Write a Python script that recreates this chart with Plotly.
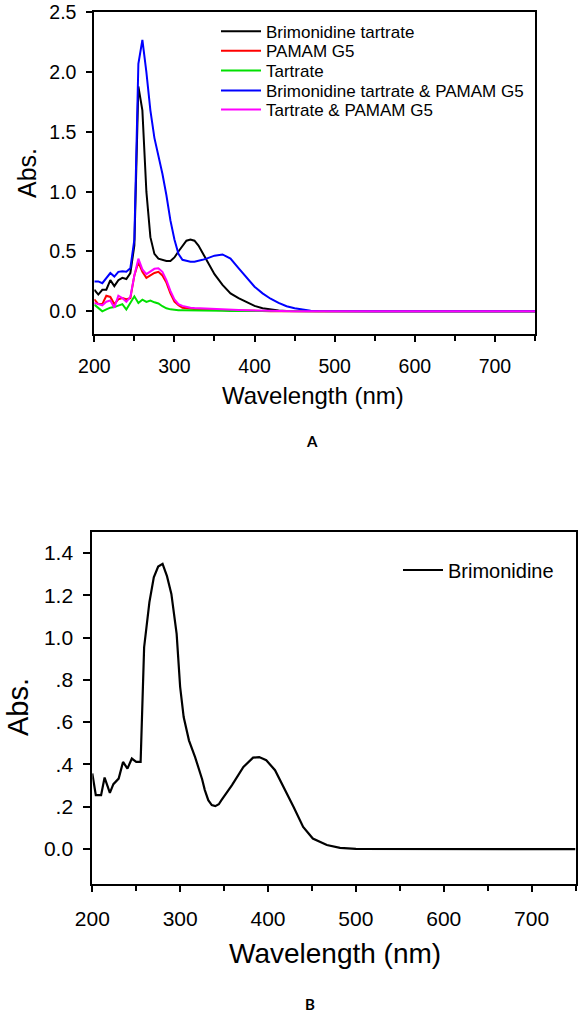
import plotly.graph_objects as go

# ---------------- Panel A data ----------------
wl_a = [200, 205, 210, 215, 220, 225, 230, 235, 240, 245, 250, 255, 260, 265, 270,
        275, 280, 285, 290, 295, 300, 305, 310, 315, 320, 325, 330, 335, 340, 345,
        350, 360, 370, 380, 390, 400, 410, 420, 430, 440, 450, 460, 470, 480, 490,
        500, 550, 600, 650, 700, 750]

brimonidine_tartrate = [0.18, 0.14, 0.18, 0.18, 0.26, 0.21, 0.26, 0.28, 0.27, 0.32, 0.55, 1.88, 1.68, 1.00, 0.62,
                        0.48, 0.44, 0.43, 0.42, 0.42, 0.45, 0.50, 0.55, 0.59, 0.60, 0.59, 0.55, 0.49, 0.43, 0.37,
                        0.31, 0.22, 0.15, 0.11, 0.075, 0.045, 0.025, 0.015, 0.007, 0.003, 0.001, 0.0, 0.0, 0.0, 0.0,
                        0.0, 0.0, 0.0, 0.0, 0.0, 0.0]
pamam_g5 = [0.10, 0.06, 0.06, 0.13, 0.12, 0.06, 0.10, 0.11, 0.10, 0.11, 0.30, 0.41, 0.33, 0.28, 0.30,
            0.32, 0.33, 0.30, 0.24, 0.15, 0.08, 0.05, 0.03, 0.025, 0.02, 0.018, 0.015, 0.013, 0.012, 0.011,
            0.010, 0.008, 0.006, 0.005, 0.004, 0.003, 0.002, 0.001, 0.001, 0.0, 0.0, 0.0, 0.0, 0.0, 0.0,
            0.0, 0.0, 0.0, 0.0, 0.0, 0.0]
tartrate = [0.056, 0.03, 0.0, 0.016, 0.03, 0.035, 0.05, 0.06, 0.015, 0.07, 0.125, 0.07, 0.097, 0.078, 0.09,
            0.075, 0.065, 0.042, 0.025, 0.016, 0.01, 0.008, 0.008, 0.007, 0.007, 0.006, 0.006, 0.005, 0.005, 0.005,
            0.004, 0.004, 0.003, 0.003, 0.002, 0.002, 0.001, 0.001, 0.0, 0.0, 0.0, 0.0, 0.0, 0.0, 0.0,
            0.0, 0.0, 0.0, 0.0, 0.0, 0.0]
brimonidine_tartrate_pamam = [0.25, 0.25, 0.235, 0.28, 0.32, 0.29, 0.33, 0.335, 0.33, 0.36, 0.60, 2.07, 2.27, 2.00, 1.68,
                              1.45, 1.30, 1.15, 0.97, 0.76, 0.60, 0.48, 0.43, 0.42, 0.415, 0.415, 0.42, 0.43, 0.44, 0.455,
                              0.465, 0.475, 0.44, 0.36, 0.28, 0.205, 0.15, 0.105, 0.07, 0.042, 0.025, 0.012, 0.005, 0.002, 0.001,
                              0.0, 0.0, 0.0, 0.0, 0.0, 0.0]
tartrate_pamam = [0.07, 0.06, 0.05, 0.08, 0.09, 0.03, 0.13, 0.11, 0.08, 0.12, 0.30, 0.44, 0.35, 0.31, 0.33,
                  0.355, 0.36, 0.33, 0.26, 0.17, 0.10, 0.06, 0.045, 0.035, 0.03, 0.027, 0.025, 0.022, 0.02, 0.018,
                  0.017, 0.015, 0.012, 0.010, 0.008, 0.006, 0.005, 0.003, 0.002, 0.002, 0.001, 0.001, 0.0, 0.0, 0.0,
                  0.0, 0.0, 0.0, 0.0, 0.0, 0.0]

names_a = ["Brimonidine tartrate", "PAMAM G5", "Tartrate",
           "Brimonidine tartrate & PAMAM G5", "Tartrate & PAMAM G5"]
colors_a = ["#000000", "#ff0000", "#00e000", "#0000ff", "#ff00ff"]
series_a = [brimonidine_tartrate, pamam_g5, tartrate, brimonidine_tartrate_pamam, tartrate_pamam]

# ---------------- Panel B data ----------------
wl_b = [200, 204, 210, 214, 220, 224, 230, 235, 240, 245, 250, 255, 259, 265, 270,
        275, 280, 285, 290, 296, 300, 304, 310, 317, 325, 328, 332, 336, 340, 344,
        347, 359, 372, 383, 390, 398, 408, 417, 429, 440, 451, 467, 482, 500, 750]
brimonidine = [0.357, 0.255, 0.255, 0.338, 0.266, 0.307, 0.333, 0.412, 0.38, 0.428, 0.412, 0.412, 0.954, 1.167, 1.284,
               1.335, 1.348, 1.29, 1.206, 1.017, 0.766, 0.624, 0.514, 0.435, 0.33, 0.28, 0.231, 0.208, 0.203, 0.212,
               0.231, 0.302, 0.388, 0.432, 0.435, 0.42, 0.373, 0.302, 0.2, 0.105, 0.05, 0.019, 0.006, 0.001, 0.0]

x_ticks = [200, 300, 400, 500, 600, 700]
y_ticks_a = [0.0, 0.5, 1.0, 1.5, 2.0, 2.5]
y_labels_a = ["0.0", "0.5", "1.0", "1.5", "2.0", "2.5"]
y_ticks_b = [0.0, 0.2, 0.4, 0.6, 0.8, 1.0, 1.2, 1.4]
y_labels_b = ["0.0", ".2", ".4", ".6", ".8", "1.0", "1.2", "1.4"]

W, H = 583, 1018
FONT = "Liberation Sans, Arial, sans-serif"

fig = go.Figure()

legend_rows_px = [31.7, 51.3, 71.0, 91.0, 110.0]
legend_keys = ["legend", "legend2", "legend3", "legend4", "legend5"]
for name, col, ys, lg in zip(names_a, colors_a, series_a, legend_keys):
    fig.add_trace(go.Scatter(x=wl_a, y=ys, mode="lines", name=name,
                             line=dict(color=col, width=2),
                             xaxis="x", yaxis="y", legend=lg))

fig.add_trace(go.Scatter(x=wl_b, y=brimonidine, mode="lines", name="Brimonidine",
                         line=dict(color="#000000", width=2.2),
                         xaxis="x2", yaxis="y2", legend="legend6"))

def px_x(p):
    return p / W

def px_y(p):
    return 1 - p / H

axis_common = dict(showline=True, linecolor="black", linewidth=2, mirror=True,
                   showgrid=False, zeroline=False, ticks="outside",
                   tickcolor="black", tickwidth=2, automargin=False)

layout = dict(
    width=W, height=H,
    margin=dict(l=0, r=0, t=0, b=0, autoexpand=False),
    paper_bgcolor="white", plot_bgcolor="white",
    font=dict(family=FONT, color="black"),
    showlegend=True,
    xaxis=dict(domain=[px_x(94.3), px_x(535)], range=[200, 750], anchor="y",
               tickvals=x_ticks, ticklen=6, tickfont=dict(size=19.5),
               ticklabelstandoff=8,
               minor=dict(dtick=50, tick0=200, ticks="outside", ticklen=5, tickwidth=2, tickcolor="black"),
               **axis_common),
    yaxis=dict(domain=[px_y(334), px_y(12.3)], range=[-0.19, 2.5], anchor="x",
               tickvals=y_ticks_a, ticktext=y_labels_a, ticklen=6, tickfont=dict(size=19.5),
               ticklabelstandoff=6,
               **axis_common),
    xaxis2=dict(domain=[px_x(92.3), px_x(575.5)], range=[200, 750], anchor="y2",
                tickvals=x_ticks, ticklen=6, tickfont=dict(size=21),
                ticklabelstandoff=9,
                minor=dict(dtick=50, tick0=200, ticks="outside", ticklen=5, tickwidth=2, tickcolor="black"),
                **axis_common),
    yaxis2=dict(domain=[px_y(884), px_y(531.7)], range=[-0.165, 1.5], anchor="x2",
                tickvals=y_ticks_b, ticktext=y_labels_b, ticklen=7, tickfont=dict(size=21),
                ticklabelstandoff=6,
                **axis_common),
)

for lg, ypx in zip(legend_keys, legend_rows_px):
    layout[lg] = dict(x=px_x(216), y=px_y(ypx), xanchor="left", yanchor="middle",
                      xref="container", yref="container",
                      itemwidth=40,
                      bgcolor="rgba(0,0,0,0)", borderwidth=0,
                      font=dict(size=17, family=FONT, color="black"))
layout["legend6"] = dict(x=px_x(398), y=px_y(570), xanchor="left", yanchor="middle",
                         xref="container", yref="container",
                         itemwidth=40,
                         bgcolor="rgba(0,0,0,0)", borderwidth=0,
                         font=dict(size=20, family=FONT, color="black"))

fig.update_layout(**layout)

annotations = [
    dict(text="Abs.", x=px_x(27), y=px_y(173), textangle=-90, font=dict(size=25)),
    dict(text="Wavelength (nm)", x=px_x(313), y=px_y(395), font=dict(size=24)),
    dict(text="<b>A</b>", x=px_x(312), y=px_y(441), font=dict(size=15, family="Lato, Open Sans, sans-serif")),
    dict(text="Abs.", x=px_x(18), y=px_y(707), textangle=-90, font=dict(size=29)),
    dict(text="Wavelength (nm)", x=px_x(335), y=px_y(953), font=dict(size=28)),
    dict(text="<b>B</b>", x=px_x(310), y=px_y(1004), font=dict(size=15, family="Lato, Open Sans, sans-serif")),
]
for a in annotations:
    a.update(xref="paper", yref="paper", showarrow=False, xanchor="center", yanchor="middle")
    a["font"] = dict(family=a["font"].get("family", FONT), size=a["font"]["size"], color="black")
fig.update_layout(annotations=annotations)

fig.write_html("out.html",
               config={"displayModeBar": False},
               post_script="document.body.style.margin='0';document.body.style.overflow='hidden';")
